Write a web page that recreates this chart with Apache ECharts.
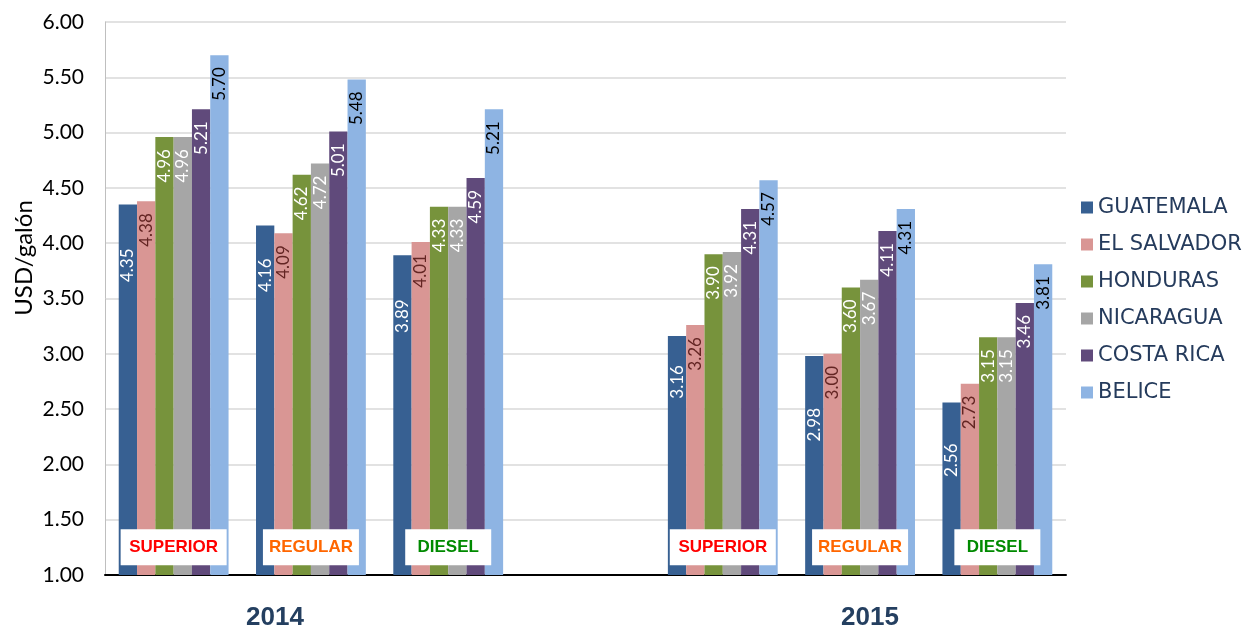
<!DOCTYPE html>
<html>
<head>
<meta charset="utf-8">
<script src="https://cdn.jsdelivr.net/npm/echarts@6/dist/echarts.min.js"></script>
<style>
  html, body { margin: 0; padding: 0; background: #fff; }
  #chart { width: 1245px; height: 630px; }
</style>
</head>
<body>
<div id="chart"></div>
<script>
// categorias del eje x (el hueco separa 2014 de 2015)
var categories = ['S14', 'R14', 'D14', 'gap', 'S15', 'R15', 'D15'];
var fuelTypes = ['SUPERIOR', 'REGULAR', 'DIESEL', '', 'SUPERIOR', 'REGULAR', 'DIESEL'];
var years = ['2014', '2015'];
var yTicks = [1, 6, 0.5]; // min, max, intervalo

var countries = ['GUATEMALA', 'EL SALVADOR', 'HONDURAS', 'NICARAGUA', 'COSTA RICA', 'BELICE'];
var guatemala = [4.35, 4.16, 3.89, '-', 3.16, 2.98, 2.56];
var elSalvador = [4.38, 4.09, 4.01, '-', 3.26, 3.00, 2.73];
var honduras = [4.96, 4.62, 4.33, '-', 3.90, 3.60, 3.15];
var nicaragua = [4.96, 4.72, 4.33, '-', 3.92, 3.67, 3.15];
var costaRica = [5.21, 5.01, 4.59, '-', 4.31, 4.11, 3.46];
var belice = [5.70, 5.48, 5.21, '-', 4.57, 4.31, 3.81];

var seriesValues = [guatemala, elSalvador, honduras, nicaragua, costaRica, belice];
var barColors = ['#376092', '#d99694', '#77933c', '#a6a6a6', '#604a7b', '#8eb4e3'];
var labelColors = ['#ffffff', '#632523', '#ffffff', '#ffffff', '#ffffff', '#000000'];
var typeColors = { SUPERIOR: '#ff0000', REGULAR: '#ff6600', DIESEL: '#008a00' };
var boxWidths = { SUPERIOR: 106, REGULAR: 96, DIESEL: 86 };

// en el original las etiquetas de Guatemala quedan más abajo
var labelGap = 12;
var guatemalaLabelGap = [44, 33, 44, 0, 29, 52, 41];

var chart = echarts.init(document.getElementById('chart'));

var series = countries.map(function (name, i) {
  var data = seriesValues[i].map(function (v, j) {
    if (v === '-') return '-';
    if (i === 0) return { value: v, label: { distance: guatemalaLabelGap[j] } };
    return v;
  });
  return {
    name: name,
    type: 'bar',
    barGap: 0,
    barCategoryGap: '20%',
    data: data,
    itemStyle: { color: barColors[i] },
    label: {
      show: true,
      position: 'insideTop',
      rotate: 90,
      align: 'right',
      verticalAlign: 'middle',
      distance: labelGap,
      color: labelColors[i],
      fontFamily: 'Lato',
      fontSize: 17,
      formatter: function (p) { return p.value.toFixed(2); }
    }
  };
});

// recuadros blancos con el tipo de combustible
series.push({
  name: 'tipo',
  type: 'scatter',
  symbol: 'rect',
  z: 5,
  symbolSize: function (v, p) { return [boxWidths[p.name] || 0, 36]; },
  data: fuelTypes.map(function (t, i) {
    if (!t) return '-';
    return {
      name: t,
      value: [i, 1.25],
      label: { color: typeColors[t] }
    };
  }),
  itemStyle: { color: '#ffffff', opacity: 1 },
  label: {
    show: true,
    position: 'inside',
    formatter: '{b}',
    fontFamily: 'Liberation Sans',
    fontWeight: 'bold',
    fontSize: 17
  },
  silent: true
});

var option = {
  animation: false,
  backgroundColor: '#ffffff',
  grid: { left: 105, right: 179, top: 22, bottom: 55 },
  legend: {
    data: countries,
    orient: 'vertical',
    left: 1076,
    top: 192,
    itemWidth: 12,
    itemHeight: 12,
    itemGap: 16,
    itemStyle: { borderWidth: 0 },
    icon: 'rect',
    textStyle: { color: '#253b5c', fontSize: 21, fontFamily: 'DejaVu Sans', fontWeight: 'normal' }
  },
  xAxis: {
    type: 'category',
    data: categories,
    axisLine: { lineStyle: { color: '#000000', width: 2 } },
    axisTick: { show: false },
    axisLabel: { show: false }
  },
  yAxis: {
    type: 'value',
    min: yTicks[0],
    max: yTicks[1],
    interval: yTicks[2],
    axisLine: { show: true, lineStyle: { color: '#bfbfbf' } },
    axisTick: { show: false },
    splitLine: { lineStyle: { color: '#d9d9d9', width: 1.5 } },
    axisLabel: {
      color: '#000000',
      fontSize: 21,
      fontFamily: 'Lato',
      margin: 21,
      formatter: function (v) { return v.toFixed(2); }
    }
  },
  graphic: [
    {
      type: 'text',
      x: 24, y: 258,
      rotation: Math.PI / 2,
      style: {
        text: 'USD/galón',
        fill: '#000000',
        font: '24px Lato',
        align: 'center',
        verticalAlign: 'middle'
      }
    },
    {
      type: 'text',
      x: 275, y: 618,
      style: { text: years[0], fill: '#243f60', font: 'bold 26px Liberation Sans', align: 'center', verticalAlign: 'middle' }
    },
    {
      type: 'text',
      x: 870, y: 618,
      style: { text: years[1], fill: '#243f60', font: 'bold 26px Liberation Sans', align: 'center', verticalAlign: 'middle' }
    }
  ],
  series: series
};

chart.setOption(option);
</script>
</body>
</html>
